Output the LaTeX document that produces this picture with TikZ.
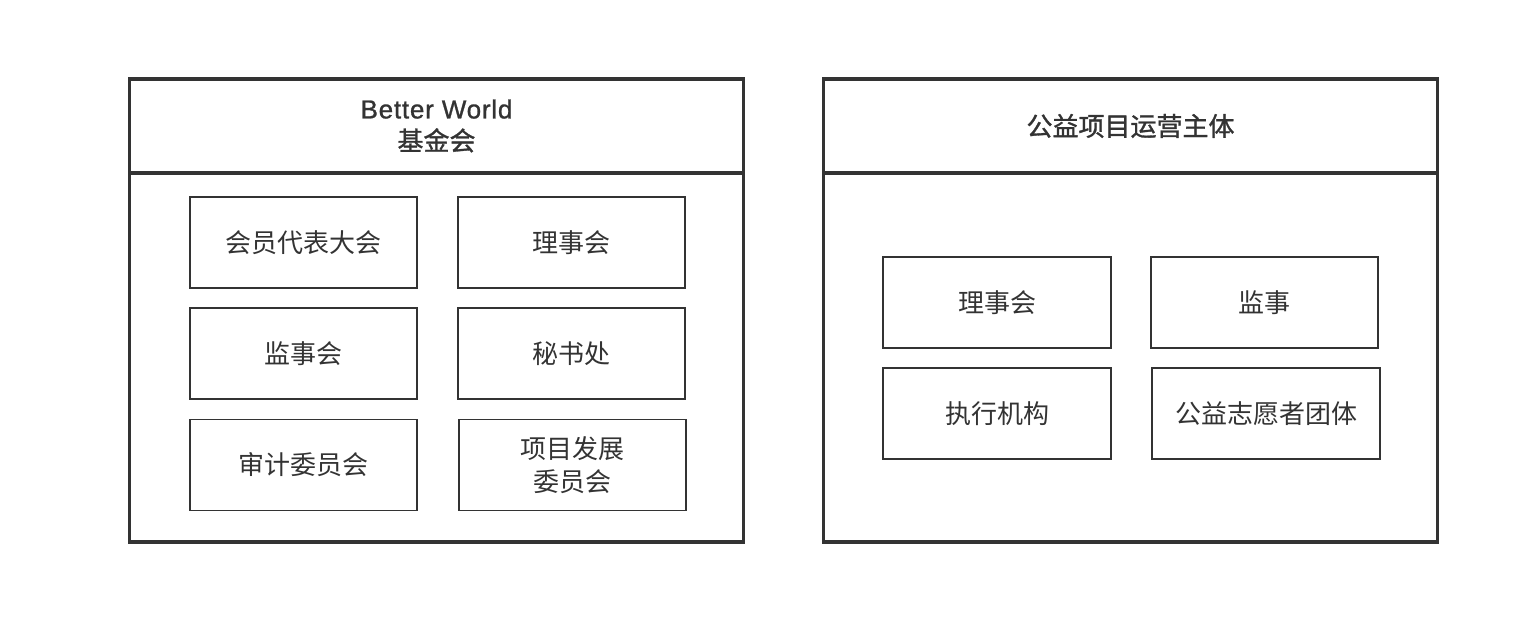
\documentclass[tikz,border=0pt]{standalone}
\usepackage{fontspec}
\setmainfont{Noto Sans CJK SC}
\newfontfamily\hdfont{Noto Sans CJK SC}[FakeBold=1.2]
\newfontfamily\latfont{Liberation Sans}[FakeBold=1.0,LetterSpace=3]
\definecolor{ink}{HTML}{333333}
\begin{document}
\begin{tikzpicture}[x=1pt,y=-1pt,
  outer/.style={draw=ink,line width=3.2pt,rectangle,inner sep=0pt,outer sep=0pt,minimum width=614pt},
  inbox/.style={draw=ink,line width=1.8pt,rectangle,inner sep=0pt,minimum width=227pt,minimum height=91pt,
    font=\fontsize{26}{33}\selectfont,text=ink,align=center},
  hd/.style={font=\hdfont\fontsize{26}{32}\selectfont,text=ink,align=center}]
\useasboundingbox (0,0) rectangle (1532,638);
% left
\node[outer,minimum height=369pt] (lbody) at (436.5,357.5) {};
\node[outer,minimum height=94pt,fill=white] (lhead) at (436.5,126) {};
\node[hd] (lhtext) at (lhead.center) {{\latfont\fontsize{26}{32}\selectfont Better World}\\基金会};
\node[inbox] (a1) at (303.5,242.5) {会员代表大会};
\node[inbox] (a2) at (571.5,242.5) {理事会};
\node[inbox] (a3) at (303.5,353.5) {监事会};
\node[inbox] (a4) at (571.5,353.5) {秘书处};
\node[inbox] (a5) at (303.5,465) {审计委员会};
\node[inbox] (a6) at (572.5,465) {项目发展\\委员会};
% right
\node[outer,minimum height=369pt] (rbody) at (1130.5,357.5) {};
\node[outer,minimum height=94pt,fill=white] (rhead) at (1130.5,126) {};
\node[hd] (rhtext) at (rhead.center) {公益项目运营主体};
\node[inbox,minimum width=228pt] (b1) at (997,302.5) {理事会};
\node[inbox] (b2) at (1264.5,302.5) {监事};
\node[inbox,minimum width=228pt] (b3) at (997,413.5) {执行机构};
\node[inbox,minimum width=228pt] (b4) at (1266,413.5) {公益志愿者团体};
\end{tikzpicture}
\end{document}
